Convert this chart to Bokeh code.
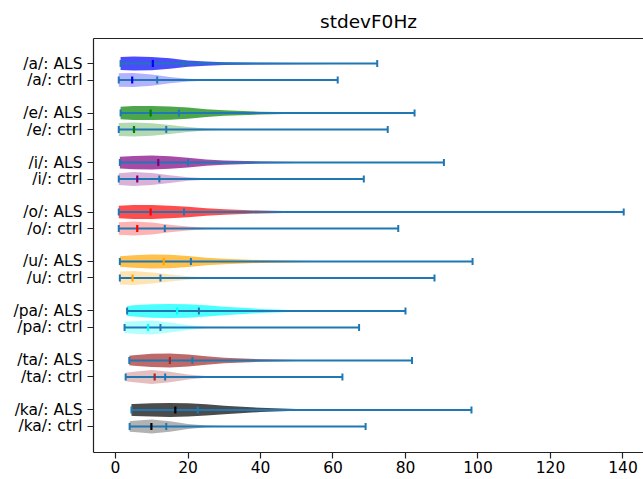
import numpy as np
from bokeh.plotting import figure
from bokeh.models import Range1d, FixedTicker, LinearAxis
from bokeh.embed import file_html
from bokeh.resources import INLINE

phonemes = ["/a/", "/e/", "/i/", "/o/", "/u/", "/pa/", "/ta/", "/ka/"]
colors = ["blue", "green", "purple", "red", "orange", "cyan", "brown", "black"]

als_min = [1.4, 1.4, 1.2, 0.9, 1.2, 3.2, 3.8, 4.4]
als_median = [10.3, 9.7, 11.8, 9.7, 13.3, 17.0, 15.0, 16.5]
als_mean = [18.7, 17.5, 20.0, 18.9, 20.8, 23.0, 21.2, 22.7]
als_max = [72.2, 82.5, 90.6, 140.2, 98.5, 80.0, 81.8, 98.2]

ctrl_min = [0.9, 0.9, 0.9, 0.9, 1.2, 2.5, 2.8, 3.9]
ctrl_median = [4.6, 5.1, 6.0, 6.0, 4.7, 9.0, 10.8, 9.9]
ctrl_mean = [11.5, 14.0, 12.1, 13.6, 12.4, 12.4, 13.7, 14.0]
ctrl_max = [61.3, 75.1, 68.5, 78.0, 88.0, 67.2, 62.6, 69.0]

# relative violin half-width read at these stdevF0Hz values
density_grid = [0, 5, 10, 15, 20, 25, 30, 40, 50, 60, 80, 100, 140]
als_density = [
    [0.9, 1.0, 0.95, 0.75, 0.45, 0.3, 0.2, 0.12, 0.08, 0.05, 0.02, 0.01, 0],
    [0.85, 1.0, 1.0, 0.95, 0.8, 0.55, 0.4, 0.2, 0.1, 0.05, 0.02, 0.01, 0],
    [0.8, 0.95, 1.0, 0.9, 0.7, 0.45, 0.3, 0.15, 0.08, 0.05, 0.02, 0.01, 0],
    [0.85, 1.0, 1.0, 0.9, 0.75, 0.55, 0.4, 0.2, 0.1, 0.05, 0.03, 0.02, 0],
    [0.7, 0.9, 1.0, 0.95, 0.8, 0.55, 0.4, 0.2, 0.1, 0.05, 0.02, 0.01, 0],
    [0.6, 0.8, 0.95, 1.0, 0.95, 0.8, 0.6, 0.3, 0.12, 0.05, 0.02, 0.01, 0],
    [0.5, 0.75, 0.95, 1.0, 0.85, 0.6, 0.4, 0.18, 0.08, 0.04, 0.02, 0.01, 0],
    [0.7, 0.85, 0.95, 1.0, 0.95, 0.8, 0.6, 0.3, 0.12, 0.06, 0.02, 0.01, 0],
]
ctrl_density = [
    [0.95, 1.0, 0.8, 0.45, 0.2, 0.1, 0.05, 0.03, 0.02, 0.01, 0.01, 0, 0],
    [0.9, 1.0, 0.9, 0.65, 0.35, 0.15, 0.08, 0.03, 0.02, 0.01, 0.01, 0, 0],
    [0.8, 1.0, 0.85, 0.55, 0.25, 0.1, 0.05, 0.03, 0.02, 0.01, 0.01, 0, 0],
    [0.85, 1.0, 0.85, 0.55, 0.3, 0.12, 0.06, 0.03, 0.02, 0.01, 0.01, 0, 0],
    [0.9, 1.0, 0.8, 0.5, 0.25, 0.1, 0.05, 0.03, 0.02, 0.01, 0.01, 0, 0],
    [0.7, 0.9, 1.0, 0.7, 0.35, 0.12, 0.05, 0.03, 0.02, 0.01, 0.01, 0, 0],
    [0.4, 0.75, 1.0, 0.75, 0.35, 0.12, 0.05, 0.03, 0.02, 0.01, 0.01, 0, 0],
    [0.55, 0.8, 1.0, 0.75, 0.35, 0.12, 0.05, 0.03, 0.02, 0.01, 0.01, 0, 0],
]

x_ticks = [0, 20, 40, 60, 80, 100, 120, 140]

VIOLIN_WIDTH = 0.85
HALF = VIOLIN_WIDTH / 2
CAP = VIOLIN_WIDTH / 4
LINE_C = "#1f77b4"
SPINE = "#222222"
FONT = "DejaVu Sans"

p = figure(width=643, height=479, output_backend="svg", toolbar_location=None,
           x_range=Range1d(-6.07, 145.66), y_range=Range1d(23.58, -1.52),
           min_border_left=93, min_border_right=0, min_border_top=38,
           min_border_bottom=27, title="stdevF0Hz")
p.outline_line_color = None
p.xgrid.visible = False
p.ygrid.visible = False
p.title.align = "center"
p.title.text_font = FONT
p.title.text_font_size = "18.5px"
p.title.text_font_style = "normal"
p.title.text_color = "black"
p.title.standoff = 13

tick_pos = []
tick_lab = {}


def violin(pos, vmin, vmed, vmean, vmax, prof, color, alpha):
    xs = [vmin] + [g for g in density_grid if vmin < g < vmax] + [vmax]
    xs = np.array(xs, dtype=float)
    w = np.interp(xs, density_grid, prof) * HALF
    w[-1] = 0.0
    px = np.concatenate([xs, xs[::-1]])
    py = np.concatenate([pos - w, (pos + w)[::-1]])
    p.patch(px, py, fill_color=color, fill_alpha=alpha, line_color=None)
    p.segment(x0=[vmin], y0=[pos], x1=[vmax], y1=[pos], line_color=LINE_C, line_width=2)
    p.segment(x0=[vmin, vmax, vmean], y0=[pos - CAP] * 3, x1=[vmin, vmax, vmean],
              y1=[pos + CAP] * 3, line_color=LINE_C, line_width=2)
    p.segment(x0=[vmed], y0=[pos - CAP], x1=[vmed], y1=[pos + CAP],
              line_color=color, line_width=2.2)


for i, ph in enumerate(phonemes):
    pa = 3 * i
    pc = 3 * i + 1
    violin(pa, als_min[i], als_median[i], als_mean[i], als_max[i], als_density[i], colors[i], 0.7)
    violin(pc, ctrl_min[i], ctrl_median[i], ctrl_mean[i], ctrl_max[i], ctrl_density[i], colors[i], 0.3)
    tick_pos += [pa, pc]
    tick_lab[pa] = ph + ": ALS"
    tick_lab[pc] = ph + ": ctrl"

bottom_axis = p.below[0]
left_axis = p.left[0]
left_axis.ticker = FixedTicker(ticks=tick_pos)
left_axis.major_label_overrides = tick_lab
bottom_axis.ticker = FixedTicker(ticks=x_ticks)

top_axis = LinearAxis(ticker=FixedTicker(ticks=[]), major_label_text_font_size="0px",
                      major_tick_out=0, major_tick_in=0, minor_tick_out=0, minor_tick_in=0,
                      major_label_standoff=0, axis_line_color=SPINE, axis_line_width=1.2)
p.add_layout(top_axis, "above")

for ax in (bottom_axis, left_axis):
    ax.axis_line_color = SPINE
    ax.axis_line_width = 1.2
    ax.major_tick_line_color = SPINE
    ax.major_tick_line_width = 1.2
    ax.major_tick_out = 6
    ax.major_tick_in = 0
    ax.minor_tick_out = 0
    ax.minor_tick_in = 0
    ax.major_label_text_font = FONT
    ax.major_label_text_font_size = "15.5px"
    ax.major_label_text_color = "black"
left_axis.major_label_standoff = 5
bottom_axis.major_label_standoff = 2

open("out.html", "w").write(file_html(p, INLINE))
